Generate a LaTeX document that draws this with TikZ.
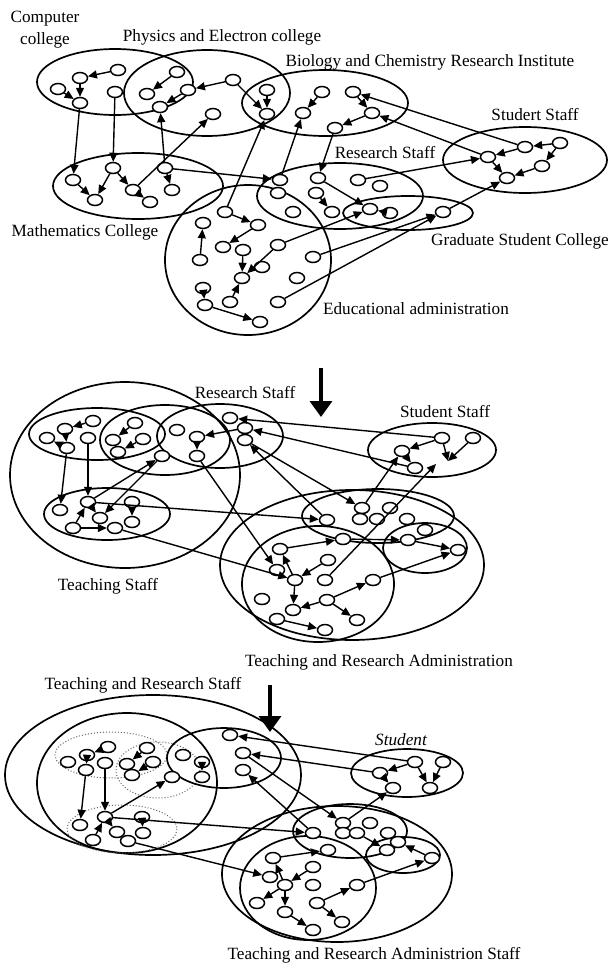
\documentclass[tikz,border=0pt]{standalone}
\usepackage{fontspec}
\setmainfont{Liberation Serif}
\usetikzlibrary{arrows.meta,shapes.geometric}
\begin{document}
\begin{tikzpicture}[x=0.5pt,y=-0.5pt,
 dot/.style={ellipse,draw,line width=0.75pt,fill=white,minimum width=7.5pt,minimum height=5.5pt,inner sep=0pt},
 grp/.style={line width=0.85pt},
 dgrp/.style={line width=0.5pt,densely dotted,black!60},
 arr/.style={line width=0.7pt,-{Triangle[length=4.5pt,width=4pt]}},
 lbl/.style={font=\fontsize{8.6}{11}\selectfont,inner sep=0pt,align=center},
 bigarr/.style={line width=1.8pt,-{Triangle[length=8pt,width=11pt]}}]
\fill[white] (0,0) rectangle (610,964);
\useasboundingbox (0,0) rectangle (610,964);

% ---------------- panel 1 clusters
\draw[grp] (115,82) ellipse [x radius=78,y radius=33];
\draw[grp] (207,93) ellipse [x radius=83,y radius=43];
\draw[grp] (325,103) ellipse [x radius=83,y radius=33];
\draw[grp] (525,160) ellipse [x radius=82,y radius=33];
\draw[grp] (340,196) ellipse [x radius=83,y radius=33];
\draw[grp] (408,213) ellipse [x radius=65,y radius=17];
\draw[grp] (138,186) ellipse [x radius=85,y radius=33];
\draw[grp] (248,260) ellipse [x radius=83,y radius=75];

% ---------------- panel 2 clusters
\draw[grp] (125,475) ellipse [x radius=115,y radius=93];
\draw[grp] (97,434) ellipse [x radius=68,y radius=26];
\draw[grp] (165,440) ellipse [x radius=65,y radius=35];
\draw[grp] (220,436) ellipse [x radius=63,y radius=32];
\draw[grp] (107,514) ellipse [x radius=63,y radius=26];
\draw[grp] (432,450) ellipse [x radius=64,y radius=27];
\draw[grp] (352,565) ellipse [x radius=132,y radius=75];
\draw[grp] (318,584) ellipse [x radius=76,y radius=58];
\draw[grp] (378,516) ellipse [x radius=76,y radius=27];
\draw[grp] (425,548) ellipse [x radius=42,y radius=25];

% ---------------- panel 3 clusters
\draw[grp] (153,775) ellipse [x radius=148,y radius=80];
\draw[grp] (127,783) ellipse [x radius=90,y radius=70];
\draw[dgrp] (111,755) ellipse [x radius=56,y radius=23];
\draw[dgrp] (158,770) ellipse [x radius=42,y radius=28];
\draw[dgrp] (122,829) ellipse [x radius=55,y radius=24];
\draw[grp] (224,758) ellipse [x radius=57,y radius=30];
\draw[grp] (407,773) ellipse [x radius=56,y radius=24];
\draw[grp] (337,874) ellipse [x radius=115,y radius=68];
\draw[grp] (308,888) ellipse [x radius=68,y radius=52];
\draw[grp] (350,831) ellipse [x radius=57,y radius=27];
\draw[grp] (403,855) ellipse [x radius=37,y radius=18];

% ---------------- nodes
\foreach \n/\x/\y in {a1/58/89,a2/80/78,a3/80/103,a4/115/92,a5/118/70,
 a6/147/94,a7/177/72,a8/188/90,a9/160/107,a10/213/114,a11/233/80,
 a12/267/90,a13/267/114,a14/303/113,a15/322/92,a16/353/92,a17/372/113,a18/335/128,
 a19/488/157,a20/525/147,a21/560/143,a22/542/166,a23/507/178,
 a24/318/178,a25/358/180,a26/380/186,a27/316/193,a28/332/212,a29/280/180,a30/278/193,a31/293/212,
 a32/370/209,a33/390/213,a34/443/212,
 a35/73/180,a36/95/200,a37/113/168,a38/133/190,a39/150/202,a40/172/190,a41/165/168,
 a42/225/212,a43/203/223,a44/258/225,a45/223/247,a46/243/250,a47/278/245,a48/200/260,
 a49/262/267,a50/242/278,a51/297/278,a52/203/288,a53/230/302,a54/278/302,a55/205/305,a56/260/322,a57/313/257}
 \node[dot] (\n) at (\x,\y) {};
\foreach \n/\x/\y in {b1/47/438,b2/65/429,b3/67/448,b4/93/421,b5/88/438,
 b6/113/440,b7/135/423,b8/143/439,b9/118/452,
 b10/177/430,b11/197/437,b12/197/456,b13/162/456,b14/230/418,b15/245/428,b16/245/440,
 b17/60/510,b18/88/502,b19/100/518,b20/73/528,b21/115/528,b22/132/502,b23/132/522,
 b24/442/438,b25/473/438,b26/402/451,b27/415/468,
 b28/327/520,b29/362/508,b30/360/519,b31/377/519,b32/390/508,b33/407/519,b34/343/539,
 b35/280/549,b36/328/560,b37/277/570,b38/295/580,b39/325/580,b40/373/580,b41/262/599,
 b42/327/600,b43/293/610,b44/277/619,b45/357/620,b46/325/630,b47/425/530,b48/408/540,b49/458/550}
 \node[dot] (\n) at (\x,\y) {};
\foreach \n/\x/\y in {c1/68/762,c2/87/755,c3/86/770,c4/108/747,c5/105/763,
 c6/147/748,c7/127/764,c8/153/762,c9/132/775,
 c10/183/755,c11/172/777,c12/202/762,c13/202/777,c14/230/735,c15/243/753,c16/243/770,
 c17/80/825,c18/105/817,c19/117/832,c20/128/841,c21/93/840,c22/142/817,c23/143/833,
 c24/415/762,c25/443/762,c26/380/773,c27/393/788,c28/430/788,
 c29/313/833,c30/343/823,c31/343/833,c32/357/833,c33/370/823,c34/388/833,c35/328/850,
 c36/273/858,c37/313/867,c38/270/877,c39/285/885,c40/313/885,c41/357/885,c42/257/903,
 c43/285/912,c44/317/903,c45/342/922,c46/313/930,c47/398/842,c48/387/850,c49/432/858}
 \node[dot] (\n) at (\x,\y) {};
\coordinate (bs1) at (448,461);
\coordinate (bs2) at (436,464);

% ---------------- connectors
\foreach \s/\t in {a5/a2,a2/a3,a1/a3,a7/a6,a8/a9,a11/a8,a11/a13,a12/a13,a3/a35,a4/a37,
 a41/a9,a38/a10,a42/a13,a29/a14,a18/a24,a20/a16,a19/a17,a16/a17,a17/a18,a15/a14,
 a20/a19,a21/a20,a21/a22,a19/a23,a22/a23,a25/a19,a34/a23,a41/a29,a37/a36,a37/a38,
 a41/a40,a38/a39,a35/a36,a27/a28,a24/a32,a33/a32,a57/a34,a54/a34,a47/a32,
 a42/a44,a44/a45,a48/a43,a46/a50,a52/a55,a55/a56,a53/a50,a47/a50}
 \draw[arr] (\s) -- (\t);
\foreach \s/\t in {b4/b2,b2/b3,b3/b1,b7/b6,b8/b9,b11/b12,b15/b11,b3/b17,b5/b18,b18/b13,
 b13/b19,b22/b23,b20/b18,b20/b21,b18/b19,b18/b28,b21/b38,b12/b37,b24/b14,b27/b15,
 b16/b29,b28/b16,b24/bs1,b25/bs1,b24/b26,b26/b27,b29/b26,b39/bs2,b35/b34,b38/b35,
 b38/b43,b36/b38,b42/b43,b42/b40,b42/b45,b44/b46,b34/b48,b48/b49,b40/b49}
 \draw[arr] (\s) -- (\t);
\foreach \s/\t in {c4/c2,c2/c3,c6/c7,c8/c9,c12/c13,c3/c17,c5/c18,c18/c11,c21/c18,c18/c19,
 c22/c23,c18/c29,c20/c38,c24/c14,c26/c15,c29/c16,c15/c30,c30/c27,c24/c26,c24/c28,
 c25/c28,c26/c27,c36/c35,c39/c36,c39/c43,c37/c39,c39/c42,c44/c41,c44/c45,c43/c46,
 c32/c48,c49/c47,c41/c49}
 \draw[arr] (\s) -- (\t);

% ---------------- big arrows
\coordinate (d1a) at (321,368); \coordinate (d1b) at (321,417);
\draw[bigarr] (d1a) -- (d1b);
\coordinate (d2a) at (270,685); \coordinate (d2b) at (270,732);
\draw[bigarr] (d2a) -- (d2b);

% ---------------- labels
\node[lbl] (l1) at (45,30) {Computer\\college};
\node[lbl] (l2) at (222,37) {Physics and Electron college};
\node[lbl] (l3) at (430,62) {Biology and Chemistry Research Institute};
\node[lbl] (l4) at (535,115) {Studert Staff};
\node[lbl] (l5) at (385,153) {Research Staff};
\node[lbl] (l6) at (85,232) {Mathematics College};
\node[lbl] (l7) at (520,241) {Graduate Student College};
\node[lbl] (l8) at (416,309) {Educational administration};
\node[lbl] (m1) at (245,393) {Research Staff};
\node[lbl] (m2) at (445,412) {Student Staff};
\node[lbl] (m3) at (108,586) {Teaching Staff};
\node[lbl] (m4) at (379,662) {Teaching and Research Administration};
\node[lbl] (n1) at (143,685) {Teaching and Research Staff};
\node[lbl,font=\fontsize{8.6}{11}\selectfont\itshape] (n2) at (401,740) {Student};
\node[lbl] (n3) at (374,955) {Teaching and Research Administrion Staff};
\end{tikzpicture}
\end{document}
